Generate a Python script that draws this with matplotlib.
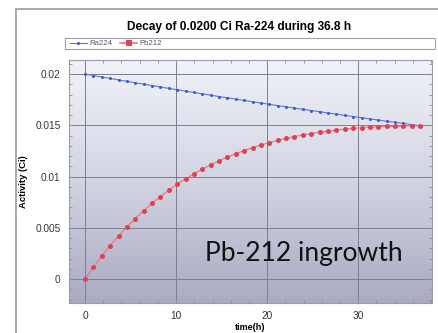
import numpy as np
import matplotlib
matplotlib.use("Agg")
import matplotlib.pyplot as plt
from matplotlib.patches import Rectangle
from matplotlib.ticker import MultipleLocator
from matplotlib.colors import LinearSegmentedColormap

# time points (h)
time_h = [0.00, 0.92, 1.84, 2.76, 3.68, 4.60, 5.52, 6.44, 7.36, 8.28,
          9.20, 10.12, 11.04, 11.96, 12.88, 13.80, 14.72, 15.64, 16.56, 17.48,
          18.40, 19.32, 20.24, 21.16, 22.08, 23.00, 23.92, 24.84, 25.76, 26.68,
          27.60, 28.52, 29.44, 30.36, 31.28, 32.20, 33.12, 34.04, 34.96, 35.88,
          36.80]

ra224 = [0.020000, 0.019855, 0.019712, 0.019569, 0.019428, 0.019287, 0.019147,
         0.019009, 0.018871, 0.018735, 0.018599, 0.018465, 0.018331, 0.018199,
         0.018067, 0.017936, 0.017807, 0.017678, 0.017550, 0.017423, 0.017297,
         0.017172, 0.017048, 0.016924, 0.016802, 0.016680, 0.016560, 0.016440,
         0.016321, 0.016203, 0.016086, 0.015969, 0.015854, 0.015739, 0.015625,
         0.015512, 0.015400, 0.015289, 0.015178, 0.015068, 0.014959]

pb212 = [0.000000, 0.001159, 0.002243, 0.003254, 0.004199, 0.005081, 0.005903,
         0.006669, 0.007383, 0.008047, 0.008665, 0.009239, 0.009772, 0.010266,
         0.010723, 0.011147, 0.011538, 0.011898, 0.012231, 0.012536, 0.012817,
         0.013074, 0.013309, 0.013523, 0.013717, 0.013892, 0.014051, 0.014193,
         0.014320, 0.014433, 0.014532, 0.014620, 0.014695, 0.014759, 0.014812,
         0.014856, 0.014891, 0.014917, 0.014936, 0.014947, 0.014950]

series_labels = ["Ra224", "Pb212"]

plt.rcParams['font.family'] = ['Liberation Sans', 'DejaVu Sans']

fig = plt.figure(figsize=(4.38, 3.33), dpi=100)
W, H = 438.0, 333.0

# outer panel border
fig.patches.append(Rectangle((16 / W, -0.1), 1.2, 1 - 9 / H + 0.1, transform=fig.transFigure,
                             facecolor='white', edgecolor='#9a9aa4', linewidth=1.2, zorder=-5))

ax = fig.add_axes([69 / W, 30 / H, (432 - 69) / W, (303 - 60) / H])
ax.set_zorder(2)

# gradient background
grad = np.linspace(0, 1, 256).reshape(-1, 1)
cmap = LinearSegmentedColormap.from_list("bg", ["#f1f2f8", "#d2d4e2", "#aaaac2"])
ax.imshow(grad, extent=[0, 1, 0, 1], transform=ax.transAxes, cmap=cmap,
          aspect='auto', zorder=0, origin='upper')
ax.set_xlim(-1.76, 38.1)
ax.set_ylim(-0.00234, 0.02137)

ax.xaxis.set_minor_locator(MultipleLocator(2))
ax.yaxis.set_minor_locator(MultipleLocator(0.001))
ax.set_yticks([0, 0.005, 0.01, 0.015, 0.02])
ax.set_yticklabels(["0", "0.005", "0.01", "0.015", "0.02"])
ax.set_xticks([0, 10, 20, 30])
ax.grid(which='major', color='#7c7e92', linewidth=0.7, zorder=1)
ax.tick_params(which='both', direction='in', colors='#8a8c9a', labelcolor='#333333',
               labelsize=7.3, length=3, top=True, right=True)
ax.tick_params(which='minor', length=2)
ax.tick_params(axis='y', pad=6)
ax.tick_params(axis='x', pad=6)
for sp in ax.spines.values():
    sp.set_color('#9a9caa')
    sp.set_linewidth(0.8)

l1, = ax.plot(time_h, ra224, color='#5a78dc', linewidth=0.8, marker='o', markersize=2.2,
              markerfacecolor='#3d5ccc', markeredgewidth=0, zorder=3)
l2, = ax.plot(time_h, pb212, color='#ea7884', linewidth=0.9, marker='o', markersize=3.6,
              markerfacecolor='#e04050', markeredgewidth=0, zorder=3)

ax.set_ylabel("Activity (Ci)", fontsize=6.8, fontweight='bold', labelpad=5)
ax.set_xlabel("time(h)", fontsize=6.5, fontweight='bold', labelpad=1)

ax.text(13.2, 0.00176, "Pb-212 ingrowth", fontsize=19, color='#111111',
        family=['Lato', 'DejaVu Sans'], zorder=4)

fig.text(239 / W, 1 - 27 / H, "Decay of 0.0200 Ci Ra-224 during 36.8 h",
         ha='center', va='center', fontsize=8.6, fontweight='bold')

# legend box
fig.patches.append(Rectangle((65 / W, 1 - 49 / H), (435 - 65) / W, 11 / H,
                             transform=fig.transFigure, facecolor='white',
                             edgecolor='#a0a0a8', linewidth=0.8, zorder=1))
h2 = plt.Line2D([], [], color='#ea7884', linewidth=1.2, marker='s', markersize=4,
                markerfacecolor='#e04050', markeredgewidth=0)
fig.legend([l1, h2], series_labels, loc='center left',
           bbox_to_anchor=(66 / W, 1 - 43.5 / H), ncol=2, frameon=False,
           fontsize=5.6, handlelength=2.2, columnspacing=1.0, handletextpad=0.3,
           borderpad=0, labelcolor='#555566')

fig.savefig("out.png", dpi=100)
